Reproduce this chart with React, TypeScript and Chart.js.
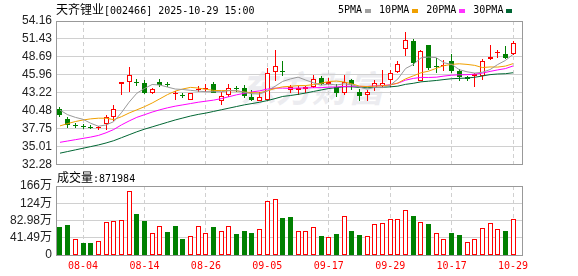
import React, { useEffect, useRef } from "react";
import { Chart, registerables } from "chart.js";

Chart.register(...registerables);

const dates = [
  "07-30", "07-31", "08-01", "08-04", "08-05", "08-06", "08-07", "08-08", "08-11", "08-12",
  "08-13", "08-14", "08-15", "08-18", "08-19", "08-20", "08-21", "08-22", "08-25", "08-26",
  "08-27", "08-28", "08-29", "09-01", "09-02", "09-03", "09-04", "09-05", "09-08", "09-09",
  "09-10", "09-11", "09-12", "09-15", "09-16", "09-17", "09-18", "09-19", "09-22", "09-23",
  "09-24", "09-25", "09-26", "09-29", "09-30", "10-09", "10-10", "10-13", "10-14", "10-15",
  "10-16", "10-17", "10-20", "10-21", "10-22", "10-23", "10-24", "10-27", "10-28", "10-29",
];

const opens = [
  40.74, 39.25, 38.35, 38.2, 38.1, 37.9, 38.55, 39.5, 44.65, 44.95,
  44.9, 44.75, 43.15, 44.9, 44.55, 43.05, 42.95, 42.2, 43.7, 43.8,
  44.5, 41.95, 42.92, 44.0, 43.93, 42.55, 42.05, 42.1, 46.45, 46.6,
  43.7, 43.7, 43.75, 44.18, 45.45, 44.6, 44.1, 43.25, 45.2, 43.4,
  42.87, 43.9, 44.25, 45.2, 46.46, 49.96, 51.07, 45.1, 50.46, 47.3,
  47.25, 48.03, 46.61, 45.6, 45.75, 45.78, 48.38, 49.25, 49.14, 49.12,
];
const highs = [
  41.1, 39.52, 38.6, 38.45, 38.3, 38.15, 39.9, 41.4, 44.85, 47.2,
  45.4, 45.2, 43.9, 45.3, 44.9, 43.45, 43.2, 43.2, 44.3, 44.6,
  44.95, 43.4, 44.6, 44.2, 44.4, 43.6, 43.4, 46.95, 49.75, 48.05,
  44.4, 44.2, 44.2, 45.95, 45.8, 45.45, 44.5, 45.95, 45.3, 43.75,
  43.68, 45.2, 46.65, 46.72, 48.13, 52.5, 51.35, 49.8, 50.56, 48.6,
  48.3, 49.1, 46.92, 45.85, 46.2, 48.4, 50.53, 49.8, 50.4, 51.08,
];
const lows = [
  39.55, 37.9, 37.85, 37.75, 37.8, 37.6, 37.6, 39.0, 42.9, 43.4,
  44.2, 43.05, 43.05, 44.1, 44.05, 42.2, 42.45, 42.15, 43.3, 43.4,
  43.2, 41.4, 42.66, 43.4, 42.45, 41.95, 41.95, 41.95, 45.0, 45.8,
  43.2, 42.95, 43.2, 43.93, 44.44, 44.44, 42.66, 42.92, 43.7, 42.05,
  42.05, 43.5, 44.05, 44.18, 46.2, 48.77, 47.25, 44.99, 46.77, 46.28,
  46.51, 46.28, 45.1, 44.99, 44.06, 45.2, 48.24, 48.54, 48.44, 49.04,
];
const closes = [
  39.9, 38.4, 38.2, 38.05, 37.95, 38.05, 39.5, 40.75, 44.85, 45.95,
  44.75, 43.15, 43.8, 44.45, 44.4, 43.25, 42.8, 43.15, 43.85, 43.95,
  43.25, 42.8, 43.93, 43.85, 42.7, 42.2, 42.55, 46.3, 47.35, 46.45,
  44.05, 43.95, 44.05, 45.3, 44.6, 44.92, 43.25, 44.94, 44.55, 42.82,
  43.37, 44.69, 44.69, 46.31, 47.63, 51.32, 47.78, 49.65, 47.02, 47.12,
  47.42, 46.61, 45.6, 45.4, 46.15, 48.05, 48.64, 49.45, 48.52, 50.8,
];

const ma5 = [
  40.6, 39.9, 39.5, 39.2, 38.6, 38.15, 38.34, 38.85, 40.21, 41.81,
  43.16, 43.89, 44.5, 44.42, 44.11, 43.81, 43.74, 43.61, 43.49, 43.4,
  43.4, 43.4, 43.56, 43.56, 43.31, 43.1, 43.05, 43.52, 44.22, 44.97,
  45.34, 45.62, 45.17, 44.76, 44.39, 44.56, 44.42, 44.6, 44.45, 44.1,
  43.79, 44.07, 44.02, 44.38, 45.34, 46.93, 47.55, 48.54, 48.68, 48.58,
  47.8, 47.56, 46.75, 46.43, 46.24, 46.36, 46.77, 47.54, 48.16, 49.09,
];
const ma10 = [
  38.2, 38.55, 38.86, 39.1, 39.27, 39.37, 39.37, 39.15, 39.6, 40.16,
  40.64, 41.12, 41.68, 42.32, 42.96, 43.49, 43.82, 44.06, 43.96, 43.76,
  43.6, 43.57, 43.59, 43.53, 43.36, 43.25, 43.23, 43.54, 43.89, 44.14,
  44.22, 44.33, 44.34, 44.49, 44.68, 44.95, 45.02, 44.88, 44.6, 44.25,
  44.18, 44.25, 44.31, 44.42, 44.72, 45.36, 45.81, 46.28, 46.53, 46.96,
  47.37, 47.56, 47.65, 47.56, 47.41, 47.08, 47.17, 47.15, 47.3, 47.67,
];
const ma20 = [
  35.7, 35.9, 36.1, 36.3, 36.5, 36.75, 37.15, 37.65, 38.35, 38.95,
  39.5, 39.9, 40.3, 40.65, 40.95, 41.2, 41.4, 41.6, 41.8, 41.96,
  42.12, 42.35, 42.64, 42.93, 43.16, 43.37, 43.53, 43.8, 43.93, 43.95,
  43.91, 43.95, 43.97, 44.01, 44.02, 44.1, 44.13, 44.21, 44.25, 44.2,
  44.2, 44.29, 44.33, 44.46, 44.7, 45.16, 45.42, 45.58, 45.57, 45.61,
  45.78, 45.91, 45.98, 45.99, 46.07, 46.22, 46.49, 46.72, 46.92, 47.32,
];
const ma30 = [
  34.05, 34.3, 34.55, 34.8, 35.05, 35.3, 35.6, 35.95, 36.4, 36.85,
  37.3, 37.7, 38.05, 38.4, 38.75, 39.1, 39.4, 39.7, 39.95, 40.15,
  40.4, 40.65, 40.9, 41.15, 41.4, 41.6, 41.8, 42.05, 42.35, 42.68,
  42.82, 43.0, 43.2, 43.44, 43.66, 43.89, 44.02, 44.16, 44.15, 44.05,
  44.0, 44.05, 44.08, 44.14, 44.25, 44.52, 44.68, 44.9, 45.0, 45.11,
  45.25, 45.38, 45.43, 45.48, 45.6, 45.79, 46.0, 46.1, 46.14, 46.29,
];

const volumes = [
  662000, 727000, 380000, 299000, 299000, 340000, 791000, 824000, 848000, 1550000,
  993000, 808000, 525000, 703000, 565000, 703000, 388000, 460000, 703000, 525000,
  678000, 573000, 703000, 509000, 581000, 533000, 630000, 1308000, 1357000, 880000,
  904000, 573000, 573000, 678000, 468000, 436000, 509000, 945000, 581000, 485000,
  460000, 743000, 775000, 872000, 872000, 1090000, 945000, 800000, 751000, 525000,
  388000, 533000, 485000, 307000, 380000, 654000, 767000, 622000, 581000, 871984,
];
const volumeUp = [
  0, 0, 1, 0, 0, 1, 1, 1, 1, 1,
  0, 0, 1, 1, 0, 0, 0, 1, 1, 1,
  0, 1, 1, 0, 0, 0, 1, 1, 1, 0,
  0, 1, 1, 1, 0, 1, 0, 1, 0, 0,
  1, 1, 1, 1, 1, 1, 0, 1, 0, 1,
  1, 0, 0, 1, 1, 1, 1, 1, 0, 1,
];

const priceTicks = [32.28, 35.01, 37.75, 40.48, 43.22, 45.96, 48.69, 51.43, 54.16];
const priceTickLabels = ["32.28", "35.01", "37.75", "40.48", "43.22", "45.96", "48.69", "51.43", "54.16"];
const volumeTicks = [0, 414900, 829800, 1244700, 1659600];
const volumeTickLabels = ["0", "41.49万", "82.98万", "124万", "166万"];
const xTickLabels = ["08-04", "08-14", "08-26", "09-05", "09-17", "09-29", "10-17", "10-29"];

const maNames = ["5PMA", "10PMA", "20PMA", "30PMA"];
const maColors = ["#a0a0a0", "#f0a000", "#ff33ff", "#006633"];
const maLineColors = ["#999999", "#f0a000", "#ff00ff", "#006633"];

const RED = "#ff0000";
const GREEN = "#008000";
const GRID = "#d0d0d0";
const FRAME = "#999999";
const MONO = "'DejaVu Sans Mono', monospace";
const SANS = "'Liberation Sans', Arial, 'Noto Sans CJK SC', sans-serif";

const boxPlugin = {
  id: "box",
  afterDraw(chart: any) {
    const { ctx, chartArea } = chart;
    const l = Math.floor(chartArea.left) + 0.5;
    const t = Math.floor(chartArea.top) + 0.5;
    const r = Math.floor(chartArea.right) + 0.5;
    const b = Math.floor(chartArea.bottom) + 0.5;
    ctx.save();
    ctx.strokeStyle = FRAME;
    ctx.lineWidth = 1;
    ctx.strokeRect(l, t, r - l, b - t);
    ctx.restore();
  },
};

// snap bar elements to whole pixels so thin candles stay crisp
const snapPlugin = {
  id: "snap",
  beforeDatasetsDraw(chart: any) {
    chart.data.datasets.forEach((_d: any, di: number) => {
      const meta = chart.getDatasetMeta(di);
      if (meta.type !== "bar") return;
      meta.data.forEach((el: any) => {
        el.x = Math.floor(el.x) + 0.5;
        let top = Math.round(Math.min(el.y, el.base));
        let bot = Math.round(Math.max(el.y, el.base));
        if (bot - top < 1) bot = top + 1;
        el.y = top;
        el.base = bot;
        el.height = bot - top;
      });
    });
  },
};

export default function App() {
  const priceRef = useRef<HTMLCanvasElement>(null);
  const volRef = useRef<HTMLCanvasElement>(null);

  useEffect(() => {
    const xTickPos = xTickLabels.map((l) => dates.indexOf(l));
    const up = closes.map((c, i) => c >= opens[i]);

    const makeX = (labels: boolean): any => ({
      type: "linear",
      min: -0.52,
      max: 60.16,
      bounds: "data",
      offset: false,
      afterBuildTicks: (s: any) => {
        s.ticks = xTickPos.map((v) => ({ value: v }));
      },
      grid: { color: GRID, offset: false, drawTicks: false, lineWidth: 1 },
      border: { display: false, dash: [4, 3] },
      ticks: labels
        ? {
            display: true,
            autoSkip: false,
            maxRotation: 0,
            color: RED,
            padding: 5,
            font: { family: MONO, size: 10 },
            callback: (_v: any, i: number) => xTickLabels[i],
          }
        : { display: false },
      afterFit: (s: any) => {
        s.height = labels ? 21 : 0;
      },
    });

    const maSets = [ma5, ma10, ma20, ma30].map((arr, k) => ({
      type: "line",
      label: maNames[k],
      data: arr.map((v, i) => ({ x: i, y: v })),
      borderColor: maLineColors[k],
      borderWidth: 1,
      pointRadius: 0,
      fill: false,
      tension: 0,
      order: 0,
    }));

    const priceChart = new Chart(priceRef.current as HTMLCanvasElement, {
      type: "bar",
      data: {
        datasets: [
          ...maSets,
          {
            type: "bar",
            label: "body",
            data: opens.map((o, i) => ({ x: i, y: [o, closes[i]] })),
            backgroundColor: up.map((u) => (u ? "#ffffff" : GREEN)),
            borderColor: up.map((u) => (u ? RED : GREEN)),
            borderWidth: 1,
            borderSkipped: false,
            barThickness: 5,
            grouped: false,
            inflateAmount: 0,
            order: 1,
          },
          {
            type: "bar",
            label: "wick",
            data: lows.map((l, i) => ({ x: i, y: [l, highs[i]] })),
            backgroundColor: up.map((u) => (u ? RED : GREEN)),
            borderWidth: 0,
            barThickness: 1,
            grouped: false,
            inflateAmount: 0,
            order: 2,
          },
        ] as any,
      },
      options: {
        animation: false,
        responsive: false,
        maintainAspectRatio: false,
        events: [],
        layout: { padding: { top: 21, right: 56, bottom: 11, left: 0 } },
        plugins: { legend: { display: false }, tooltip: { enabled: false } },
        scales: {
          x: makeX(false),
          y: {
            type: "linear",
            min: 32.28,
            max: 54.16,
            bounds: "data",
            afterBuildTicks: (s: any) => {
              s.ticks = priceTicks.map((v) => ({ value: v }));
            },
            ticks: {
              autoSkip: false,
              color: "#222222",
              padding: 4,
              font: { family: SANS, size: 12 },
              callback: (_v: any, i: number) => priceTickLabels[i],
            },
            grid: { color: GRID, drawTicks: false },
            border: { display: false },
            afterFit: (s: any) => {
              s.width = 56;
            },
          } as any,
        },
      },
      plugins: [snapPlugin, boxPlugin],
    });

    const volChart = new Chart(volRef.current as HTMLCanvasElement, {
      type: "bar",
      data: {
        datasets: [
          {
            label: "成交量",
            data: volumes.map((v, i) => ({ x: i, y: v })),
            backgroundColor: volumeUp.map((u) => (u ? "#ffffff" : GREEN)),
            borderColor: volumeUp.map((u) => (u ? RED : GREEN)),
            borderWidth: 1,
            borderSkipped: false,
            barThickness: 5,
            grouped: false,
            inflateAmount: 0,
          },
        ] as any,
      },
      options: {
        animation: false,
        responsive: false,
        maintainAspectRatio: false,
        events: [],
        layout: { padding: { top: 20, right: 56, bottom: 0, left: 0 } },
        plugins: { legend: { display: false }, tooltip: { enabled: false } },
        scales: {
          x: makeX(true),
          y: {
            type: "linear",
            min: 0,
            max: 1659600,
            bounds: "data",
            afterBuildTicks: (s: any) => {
              s.ticks = volumeTicks.map((v) => ({ value: v }));
            },
            ticks: {
              autoSkip: false,
              color: "#222222",
              padding: 4,
              font: { family: SANS, size: 12 },
              callback: (_v: any, i: number) => volumeTickLabels[i],
            },
            grid: { color: GRID, drawTicks: false },
            border: { display: false },
            afterFit: (s: any) => {
              s.width = 56;
            },
          } as any,
        },
      },
      plugins: [snapPlugin, boxPlugin],
    });

    return () => {
      priceChart.destroy();
      volChart.destroy();
    };
  }, []);

  return (
    <div
      style={{
        position: "fixed",
        left: 0,
        top: 0,
        width: 578,
        height: 276,
        background: "#ffffff",
        overflow: "hidden",
      }}
    >
      <div
        style={{
          position: "absolute",
          left: 240,
          top: 64,
          fontFamily: "'Noto Sans CJK SC', sans-serif",
          fontSize: 36,
          fontWeight: 700,
          lineHeight: "44px",
          color: "#ececf0",
          whiteSpace: "nowrap",
          fontStyle: "italic",
        }}
      >
        东方财富
      </div>
      <canvas
        ref={priceRef}
        width={578}
        height={176}
        style={{ position: "absolute", left: 0, top: 0, width: 578, height: 176 }}
      />
      <canvas
        ref={volRef}
        width={578}
        height={110}
        style={{ position: "absolute", left: 0, top: 166, width: 578, height: 110 }}
      />
      <div
        style={{
          position: "absolute",
          left: 56,
          top: 3,
          lineHeight: "12px",
          whiteSpace: "nowrap",
          color: "#000",
        }}
      >
        <span style={{ fontFamily: "'Noto Sans CJK SC', sans-serif", fontSize: 12 }}>天齐锂业</span>
        <span style={{ fontFamily: MONO, fontSize: 10 }}>[002466] 2025-10-29 15:00</span>
      </div>
      <div
        style={{
          position: "absolute",
          left: 338,
          top: 4,
          display: "flex",
          alignItems: "center",
          whiteSpace: "nowrap",
          fontFamily: MONO,
          fontSize: 10,
          lineHeight: "12px",
          color: "#000",
        }}
      >
        {maNames.map((n, k) => (
          <span key={n} style={{ display: "flex", alignItems: "center", marginRight: 8 }}>
            <span>{n}</span>
            <span
              style={{
                display: "inline-block",
                width: 6,
                height: 4,
                marginLeft: 3,
                marginTop: 2,
                background: maColors[k],
              }}
            />
          </span>
        ))}
      </div>
      <div
        style={{
          position: "absolute",
          left: 57,
          top: 171,
          lineHeight: "12px",
          whiteSpace: "nowrap",
          color: "#000",
        }}
      >
        <span style={{ fontFamily: "'Noto Sans CJK SC', sans-serif", fontSize: 12 }}>成交量</span>
        <span style={{ fontFamily: MONO, fontSize: 10 }}>:871984</span>
      </div>
    </div>
  );
}
